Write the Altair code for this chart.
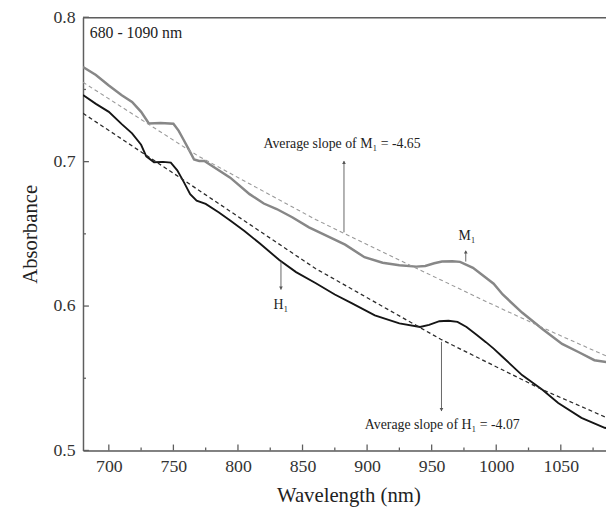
import altair as alt
import pandas as pd

# ---- data ----
m1_wl = [680, 690, 700, 710, 718, 725, 731, 740, 750, 754, 758, 762, 766, 770, 774, 780, 794,
         809, 820, 830, 842, 855, 868, 883, 898, 912, 925, 938, 945, 952, 958, 966, 972,
         982, 990, 998, 1005, 1020, 1036, 1051, 1064, 1076, 1090]
m1_abs = [0.7655, 0.760, 0.7527, 0.746, 0.7413, 0.7345, 0.7265, 0.7268, 0.7262, 0.7215, 0.715,
          0.7083, 0.7015, 0.7005, 0.7005, 0.697, 0.6889, 0.6775, 0.671, 0.6672, 0.6615, 0.6545,
          0.649, 0.6425, 0.6338, 0.630, 0.6283, 0.6273, 0.6278, 0.6296, 0.6308, 0.631, 0.6306,
          0.6265, 0.621, 0.6155, 0.608, 0.5955, 0.584, 0.5738, 0.568, 0.5625, 0.5605]

h1_wl = [680, 690, 700, 710, 718, 725, 729, 735, 742, 748, 753, 758, 763, 768, 775, 785, 794,
         805, 817, 832, 845, 860, 875, 888, 906, 925, 941, 948, 956, 963, 970, 977, 985,
         992, 998, 1005, 1020, 1036, 1048, 1066, 1084, 1090]
h1_abs = [0.7462, 0.740, 0.7345, 0.726, 0.7196, 0.7117, 0.7037, 0.6996, 0.6998, 0.6993, 0.694,
          0.686, 0.6775, 0.673, 0.6707, 0.665, 0.6593, 0.652, 0.6433, 0.6319, 0.6235, 0.616,
          0.608, 0.602, 0.5935, 0.588, 0.5855, 0.587, 0.5895, 0.5898, 0.589, 0.5855, 0.580,
          0.575, 0.5705, 0.5647, 0.5522, 0.5419, 0.5328, 0.5226, 0.5157, 0.5145]

m1_fit_wl = [680, 769, 860, 906, 990, 1036, 1090]
m1_fit_abs = [0.755, 0.704, 0.660, 0.640, 0.604, 0.585, 0.5635]

h1_fit_wl = [680, 760, 860, 957, 1036, 1090]
h1_fit_abs = [0.7335, 0.686, 0.626, 0.577, 0.542, 0.521]

x_ticks = [700, 750, 800, 850, 900, 950, 1000, 1050]
x_minor = [725, 775, 825, 875, 925, 975, 1025, 1075]
y_ticks = [0.5, 0.6, 0.7, 0.8]
y_minor = [0.55, 0.65, 0.75]

notes_text = ["680 - 1090 nm", "Average slope of M\u2081 = -4.65", "Average slope of H\u2081 = -4.07",
              "M\u2081", "H\u2081"]
notes_wl = [685.3, 880.6, 958.2, 977.4, 833.3]
notes_abs = [0.7857, 0.7094, 0.5146, 0.6456, 0.5977]
notes_align = ["left", "center", "center", "center", "center"]

ptr_wl = [882.1, 957.6, 976.4, 833.3]
ptr_y1 = [0.7003, 0.5752, 0.6308, 0.6308]
ptr_y2 = [0.6511, 0.5273, 0.638, 0.6114]
head_wl = [882.1, 957.6, 976.4, 833.3]
head_abs = [0.6995, 0.5283, 0.6375, 0.6124]
head_shape = ["triangle-up", "triangle-down", "triangle-up", "triangle-down"]

# ---- tables ----
df_m1 = pd.DataFrame({"wl": m1_wl, "a": m1_abs})
df_h1 = pd.DataFrame({"wl": h1_wl, "a": h1_abs})
df_m1f = pd.DataFrame({"wl": m1_fit_wl, "a": m1_fit_abs})
df_h1f = pd.DataFrame({"wl": h1_fit_wl, "a": h1_fit_abs})
df_notes = pd.DataFrame({"wl": notes_wl, "a": notes_abs, "t": notes_text, "al": notes_align})
df_ptr = pd.DataFrame({"wl": ptr_wl, "y1": ptr_y1, "y2": ptr_y2})
df_head = pd.DataFrame({"wl": head_wl, "a": head_abs, "s": head_shape})
df_xmaj = pd.DataFrame({"v": x_ticks})
df_xmin = pd.DataFrame({"v": x_minor})
df_ymaj = pd.DataFrame({"v": y_ticks})
df_ymin = pd.DataFrame({"v": y_minor})

W, H = 530, 439
FONT = "'Liberation Serif', 'Times New Roman', Times, serif"
AX = "#5e5e5e"

xs = alt.Scale(domain=[680, 1085], nice=False, zero=False)
ys = alt.Scale(domain=[0.5, 0.8], nice=False, zero=False)

label_x = alt.Axis(orient="bottom", values=x_ticks, format="d", ticks=False, tickSize=0,
                   labelPadding=7, labelFont=FONT, labelFontSize=18, labelColor="#333",
                   labelFlush=False, domain=True, domainColor=AX, domainWidth=1.5, grid=False,
                   title="Wavelength (nm)", titleFont=FONT, titleFontSize=21,
                   titleFontWeight="normal", titleColor="#222", titleX=269, titleY=52,
                   titleBaseline="alphabetic", titleAlign="center")
frame_x = alt.Axis(orient="top", domain=True, domainColor=AX, domainWidth=1.5, ticks=False,
                   labels=False, grid=False, title=None)
label_y = alt.Axis(orient="left", values=y_ticks, format=".1f", ticks=False, tickSize=0,
                   labelPadding=8, labelFont=FONT, labelFontSize=18, labelColor="#333",
                   labelFlush=False, domain=True, domainColor=AX, domainWidth=1.5, grid=False,
                   title="Absorbance", titleFont=FONT, titleFontSize=21, titleFontWeight="normal",
                   titleColor="#222", titleAngle=270, titleX=-47, titleY=219.5,
                   titleBaseline="alphabetic", titleAlign="center")


def X(field="wl", axis=None):
    return alt.X(f"{field}:Q", scale=xs, axis=axis)


def Y(field="a", axis=None):
    return alt.Y(f"{field}:Q", scale=ys, axis=axis)


m1_line = alt.Chart(df_m1).mark_line(color="#878787", strokeWidth=2.5, clip=True).encode(
    x=X(axis=label_x), y=Y(axis=label_y))
h1_line = alt.Chart(df_h1).mark_line(color="#151515", strokeWidth=1.9, clip=True).encode(
    x=X(axis=frame_x), y=Y())
m1_fit = alt.Chart(df_m1f).mark_line(color="#9a9a9a", strokeWidth=1.1, strokeDash=[4, 3],
                                     clip=True).encode(x=X(), y=Y())
h1_fit = alt.Chart(df_h1f).mark_line(color="#2a2a2a", strokeWidth=1.3, strokeDash=[4, 3],
                                     clip=True).encode(x=X(), y=Y())

# inward axis ticks
xmaj = alt.Chart(df_xmaj).mark_rule(color=AX, strokeWidth=1.3).encode(
    x=X("v"), y=alt.value(H), y2=alt.value(H - 6))
xmin = alt.Chart(df_xmin).mark_rule(color=AX, strokeWidth=1.3).encode(
    x=X("v"), y=alt.value(H), y2=alt.value(H - 3))
ymaj = alt.Chart(df_ymaj).mark_rule(color=AX, strokeWidth=1.3).encode(
    y=Y("v"), x=alt.value(0), x2=alt.value(6))
ymin = alt.Chart(df_ymin).mark_rule(color=AX, strokeWidth=1.3).encode(
    y=Y("v"), x=alt.value(0), x2=alt.value(3))

ptrs = alt.Chart(df_ptr).mark_rule(color="#666", strokeWidth=1).encode(
    x=X(), y=Y("y1"), y2="y2:Q")
heads = alt.Chart(df_head).mark_point(filled=True, color="#555", size=14, opacity=1).encode(
    x=X(), y=Y(), shape=alt.Shape("s:N", scale=None))

notes_big = alt.Chart(df_notes[df_notes.al == "left"]).mark_text(
    font=FONT, fontSize=16, color="#222", align="left", baseline="alphabetic").encode(
    x=X(), y=Y(), text="t:N")
notes_c = alt.Chart(df_notes[df_notes.al == "center"]).mark_text(
    font=FONT, fontSize=14, color="#222", align="center", baseline="alphabetic").encode(
    x=X(), y=Y(), text="t:N")

chart = alt.layer(m1_line, h1_line, m1_fit, h1_fit, xmaj, xmin, ymaj, ymin,
                  ptrs, heads, notes_big, notes_c).resolve_axis(
    x="independent", y="independent"
).properties(
    width=W, height=H,
    autosize=alt.AutoSizeParams(type="none"),
    padding={"left": 76, "top": 6, "right": 0, "bottom": 59},
).configure_view(stroke=None).configure_axis(
    labelFont=FONT, titleFont=FONT
).configure(background="white", font=FONT)

chart.save("out.html", embed_options={"renderer": "svg", "actions": False})
